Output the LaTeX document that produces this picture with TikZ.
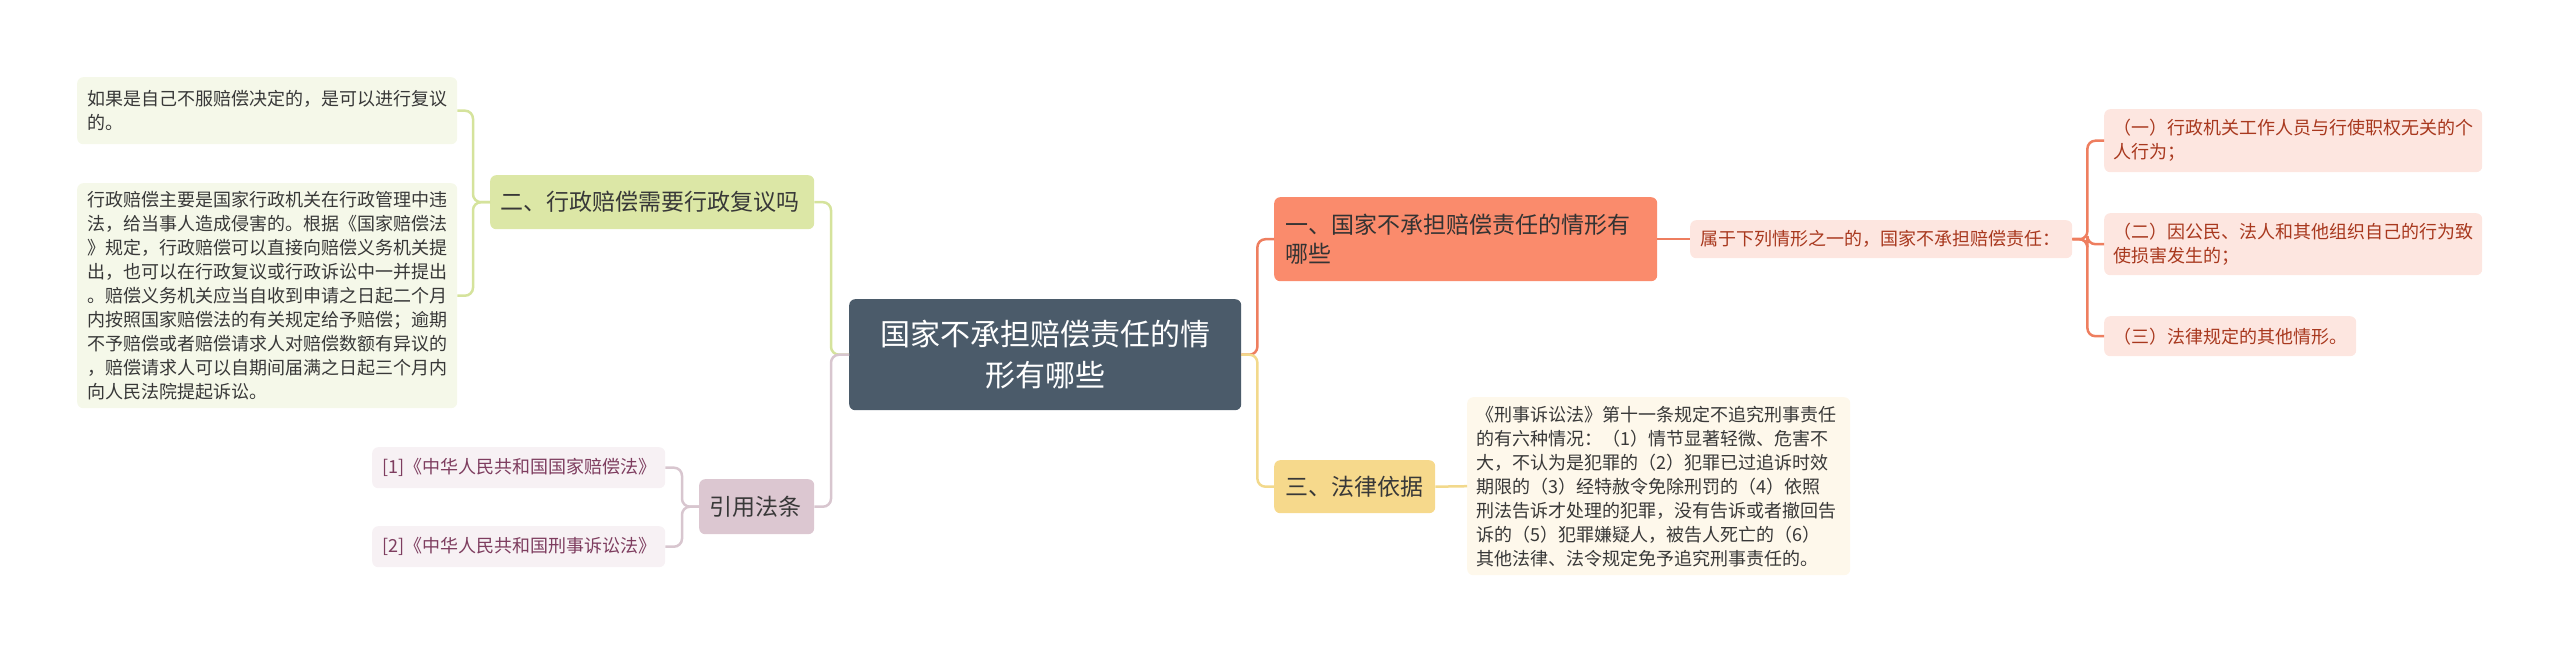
\documentclass[tikz,border=0pt]{standalone}
\usepackage{fontspec}
\setmainfont{Noto Sans CJK SC}
\definecolor{rootc}{HTML}{4B5B6A}
\definecolor{gfill}{HTML}{DCE7A6}
\definecolor{gline}{HTML}{D5E39C}
\definecolor{gleaf}{HTML}{F5F8E9}
\definecolor{mfill}{HTML}{DCC7D1}
\definecolor{mline}{HTML}{D8C6CF}
\definecolor{mleaf}{HTML}{F7F1F4}
\definecolor{mtext}{HTML}{7E3D5F}
\definecolor{cfill}{HTML}{FA8B6C}
\definecolor{cline}{HTML}{EE7E5F}
\definecolor{cleaf}{HTML}{FDE6E0}
\definecolor{ctext}{HTML}{A8381E}
\definecolor{yfill}{HTML}{F6D98C}
\definecolor{yline}{HTML}{F2D98C}
\definecolor{yleaf}{HTML}{FEF8EB}
\definecolor{dtext}{HTML}{383838}
\begin{document}
\begin{tikzpicture}[x=1pt,y=-1pt,
  box/.style={rectangle, rounded corners=6pt, anchor=north west, inner xsep=10pt, inner ysep=0pt, align=left, text=dtext},
  small/.style={font=\fontsize{18}{24}\selectfont},
  mid/.style={font=\fontsize{23}{29}\selectfont},
  conn/.style={line width=2.5pt, rounded corners=8pt}]
\useasboundingbox (0,0) rectangle (2560,653);
% root
\node[box, fill=rootc, text=white, align=center, text width=372pt, minimum height=111pt,
  font=\fontsize{30}{41}\selectfont] (root) at (849,299) {国家不承担赔偿责任的情\\形有哪些};
% left: branch two
\node[box, mid, fill=gfill, text width=304pt, minimum height=54pt] (n2) at (490,175) {二、行政赔偿需要行政复议吗};
\node[box, small, fill=gleaf, text width=360pt, minimum height=67pt] (A) at (77,77)
  {如果是自己不服赔偿决定的，是可以进行复议\\的。};
\node[box, small, fill=gleaf, text width=360pt, minimum height=225pt] (B) at (77,183)
  {行政赔偿主要是国家行政机关在行政管理中违\\法，给当事人造成侵害的。根据《国家赔偿法\\》规定，行政赔偿可以直接向赔偿义务机关提\\出，也可以在行政复议或行政诉讼中一并提出\\。赔偿义务机关应当自收到申请之日起二个月\\内按照国家赔偿法的有关规定给予赔偿；逾期\\不予赔偿或者赔偿请求人对赔偿数额有异议的\\，赔偿请求人可以自期间届满之日起三个月内\\向人民法院提起诉讼。};
% left: references
\node[box, mid, fill=mfill, text width=95pt, minimum height=55pt] (ref) at (699,479) {引用法条};
\node[box, fill=mleaf, text=mtext, text width=273pt, minimum height=41pt, font=\fontsize{18}{22}\selectfont] (r1) at (372,447) {[1]《中华人民共和国国家赔偿法》};
\node[box, fill=mleaf, text=mtext, text width=273pt, minimum height=41pt, font=\fontsize{18}{22}\selectfont] (r2) at (372,526) {[2]《中华人民共和国刑事诉讼法》};
% right: branch one
\node[box, mid, fill=cfill, text=black!80, text width=361pt, inner xsep=11pt, minimum height=84pt] (n1) at (1274,197) {一、国家不承担赔偿责任的情形有\\哪些};
\node[box, small, fill=cleaf, text=ctext, text width=362pt, minimum height=38pt] (sy) at (1690,220) {属于下列情形之一的，国家不承担赔偿责任：};
\node[box, small, fill=cleaf, text=ctext, text width=360pt, inner xsep=9pt, minimum height=63pt] (i1) at (2104,109) {（一）行政机关工作人员与行使职权无关的个\\人行为；};
\node[box, small, fill=cleaf, text=ctext, text width=360pt, inner xsep=9pt, minimum height=62pt] (i2) at (2104,213) {（二）因公民、法人和其他组织自己的行为致\\使损害发生的；};
\node[box, small, fill=cleaf, text=ctext, text width=234pt, inner xsep=9pt, minimum height=40pt] (i3) at (2104,316) {（三）法律规定的其他情形。};
% right: branch three
\node[box, mid, fill=yfill, text width=139pt, inner xsep=11pt, minimum height=53pt] (n3) at (1274,460) {三、法律依据};
\node[box, small, fill=yleaf, text width=365pt, inner xsep=9pt, minimum height=178pt] (C) at (1467,397)
  {《刑事诉讼法》第十一条规定不追究刑事责任\\的有六种情况：（1）情节显著轻微、危害不\\大，不认为是犯罪的（2）犯罪已过追诉时效\\期限的（3）经特赦令免除刑罚的（4）依照\\刑法告诉才处理的犯罪，没有告诉或者撤回告\\诉的（5）犯罪嫌疑人，被告人死亡的（6）\\其他法律、法令规定免予追究刑事责任的。};
% connectors
\draw[conn, gline] (root.west) -- ++(-18,0) |- (n2.east);
\draw[conn, mline] (root.west) -- ++(-18,0) |- (ref.east);
\draw[conn, gline] (n2.west) -- ++(-17,0) |- (A.east);
\draw[conn, gline] (n2.west) -- ++(-17,0) |- (B.east);
\draw[conn, mline] (ref.west) -- ++(-17,0) |- (r1.east);
\draw[conn, mline] (ref.west) -- ++(-17,0) |- (r2.east);
\draw[conn, cline] (root.east) -- ++(16,0) |- (n1.west);
\draw[conn, yline] (root.east) -- ++(16,0) |- (n3.west);
\draw[conn, cline] (n1.east) -- (sy.west);
\draw[conn, cline] (sy.east) -- ++(15,0) |- (i1.west);
\draw[conn, cline] (sy.east) -- ++(15,0) |- (i2.west);
\draw[conn, cline] (sy.east) -- ++(15,0) |- (i3.west);
\draw[conn, yline] (n3.east) -- (C.west);
\end{tikzpicture}
\end{document}
